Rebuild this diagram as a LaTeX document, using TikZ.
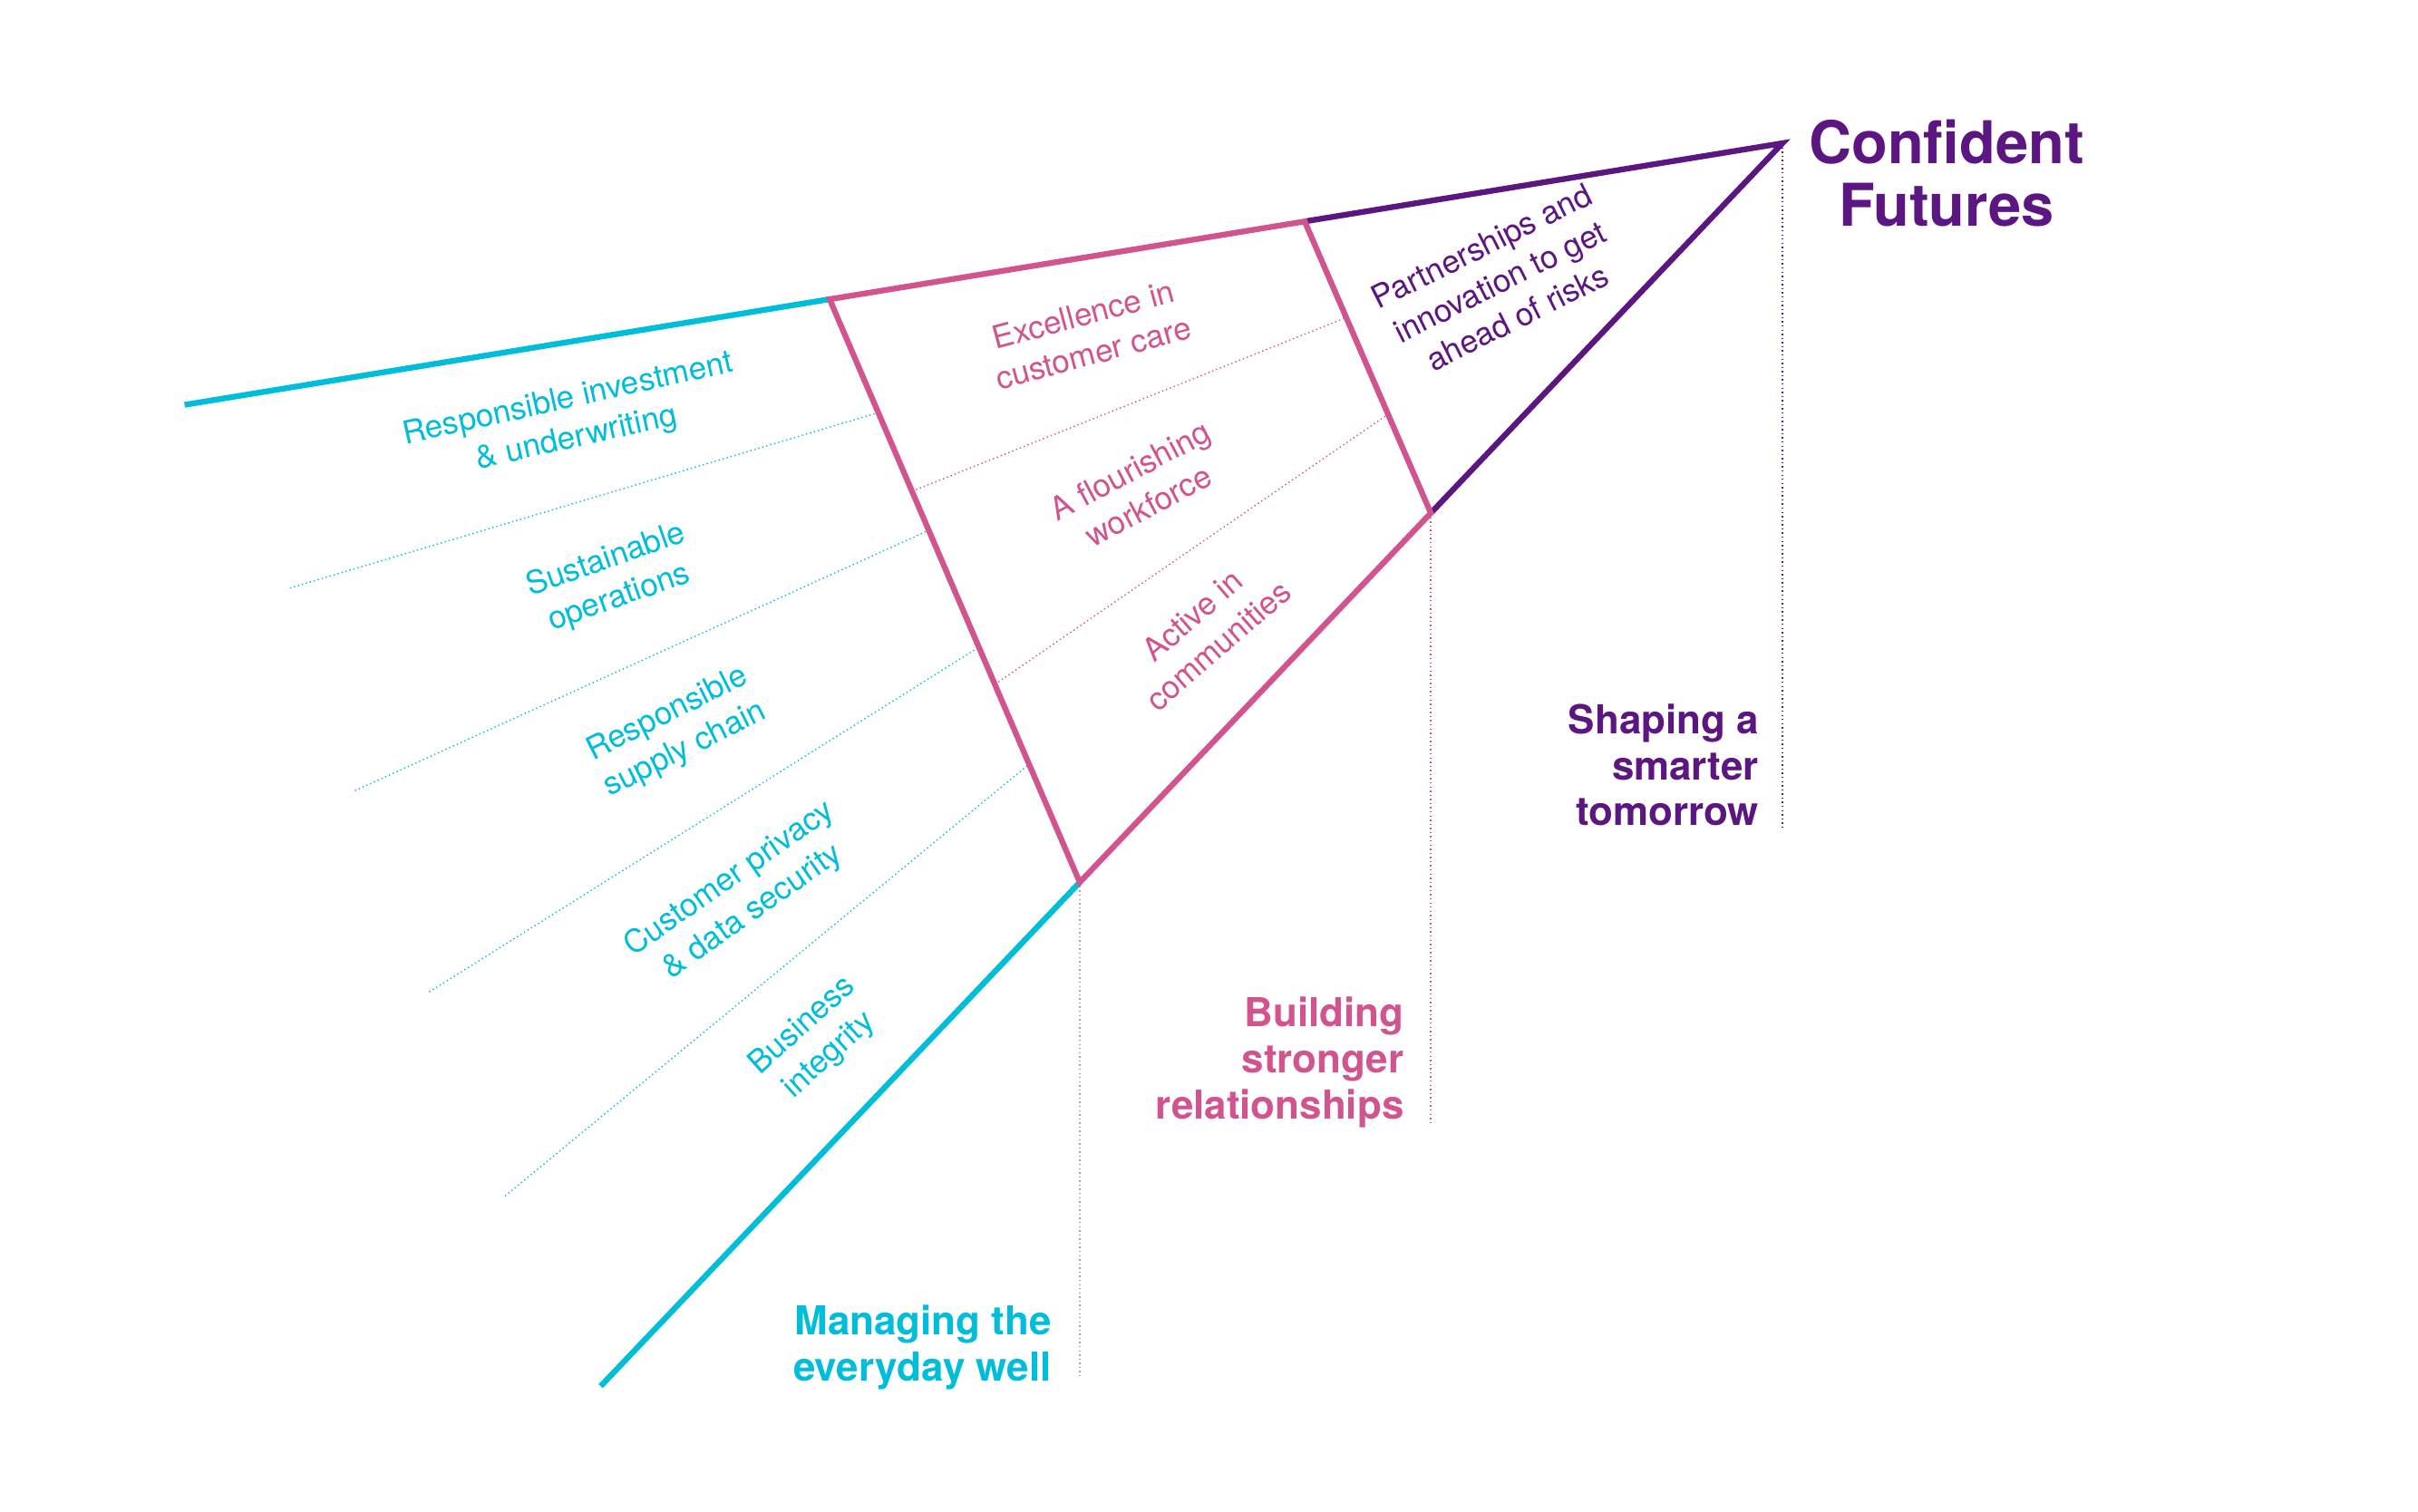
\documentclass[tikz,border=0pt]{standalone}
\usepackage{fontspec}
\setmainfont{TeX Gyre Heros}
\usetikzlibrary{calc}

\definecolor{cy}{RGB}{0,190,218}
\definecolor{pk}{RGB}{210,84,143}
\definecolor{pu}{RGB}{92,22,130}

\begin{document}
\begin{tikzpicture}[
  edge/.style = {line width=1.8pt},
  ray/.style  = {line width=0.4pt, dash pattern=on 0.4pt off 0.9pt},
  lbl/.style  = {font=\fontsize{10}{12.5}\selectfont, align=center, inner sep=0pt},
  head/.style = {font=\fontsize{12.5}{14.5}\selectfont\bfseries, align=right,
                 inner sep=0pt, anchor=north east},
]
\useasboundingbox (0,0) rectangle (266.7mm,166.7mm);

% ---------------- wedge corners -----------------------------------------
\coordinate (apex) at (196.6mm,150.9mm);
\coordinate (tl) at ($(apex)+(189.3:178.6mm)$);
\coordinate (t1) at ($(apex)+(189.3:106.5mm)$);
\coordinate (t2) at ($(apex)+(189.3:53.4mm)$);
\coordinate (bl) at ($(apex)+(226.45:189.2mm)$);
\coordinate (b1) at ($(apex)+(226.45:112.5mm)$);
\coordinate (b2) at ($(apex)+(226.45:56.3mm)$);

% ---------------- dotted guides -----------------------------------------
\foreach \a/\r in {16.6/171.8, 24.4/172.9, 32.1/176.2, 39.5/182.6} {
  \coordinate (o) at ($(apex)+({180+\a}:\r mm)$);
  \draw[ray, cy] (o) -- (intersection of apex--o and t1--b1);
}
\foreach \a in {21.8, 34.5} {
  \coordinate (o) at ($(apex)+({180+\a}:20mm)$);
  \draw[ray, pk] (intersection of apex--o and t1--b1)
              -- (intersection of apex--o and t2--b2);
}

\coordinate (vc) at ($(b1)+(0,-54.6mm)$);
\coordinate (vp) at ($(b2)+(0,-67.25mm)$);
\coordinate (vu) at ($(apex)+(0,-75.7mm)$);
\draw[ray, gray!70] (b1) -- (vc);
\draw[ray, pk] (b2) -- (vp);
\draw[ray, pu] (apex) -- (vu);

% ---------------- wedge outline -----------------------------------------
\draw[edge, cy] (tl) -- (t1);
\draw[edge, cy] (b1) -- (bl);
\draw[edge, pu] (t2) -- (apex) -- (b2);
\draw[edge, pk] (t1) -- (t2) -- (b2) -- (b1) -- cycle;

% ---------------- sector labels -----------------------------------------
\node[lbl, cy, rotate=12.5] (inv)  at ($(apex)+(192.86:136.9mm)$)
  {Responsible investment\\\& underwriting};
\node[lbl, cy, rotate=19.5] (ops)  at ($(apex)+(200.45:137.7mm)$)
  {Sustainable\\operations};
\node[lbl, cy, rotate=26.5] (sup)  at ($(apex)+(208.04:138.2mm)$)
  {Responsible\\supply chain};
\node[lbl, cy, rotate=35]   (priv) at ($(apex)+(215.86:141.7mm)$)
  {Customer privacy\\\& data security};
\node[lbl, cy, rotate=42]   (intg) at ($(apex)+(222.89:145.5mm)$)
  {Business\\integrity};

\node[lbl, pk, rotate=15]   (care) at ($(apex)+(195.35:79.4mm)$)
  {Excellence in\\customer care};
\node[lbl, pk, rotate=28]   (work) at ($(apex)+(208.2:80.5mm)$)
  {A flourishing\\workforce};
\node[lbl, pk, rotate=41]   (comm) at ($(apex)+(220.17:83.3mm)$)
  {Active in\\communities};

\node[lbl, pu, rotate=26.5] (part) at ($(apex)+(206.08:34.75mm)$)
  {Partnerships and\\innovation to get\\ahead of risks};

% ---------------- headings ----------------------------------------------
\node[head, cy] (every) at ($(b1)+(-3.05mm,-46.6mm)$)
  {Managing the\\everyday well};
\node[head, pk] (build) at ($(b2)+(-2.9mm,-53.3mm)$)
  {Building\\stronger\\relationships};
\node[head, pu] (shape) at ($(apex)+(-2.55mm,-61.76mm)$)
  {Shaping a\\smarter\\tomorrow};

\node[pu, inner sep=0pt, anchor=north, align=center,
      font=\fontsize{18.5}{19.8}\selectfont\bfseries] (conf) at (214.7mm,153.6mm)
  {Confident\\Futures};

\end{tikzpicture}
\end{document}
